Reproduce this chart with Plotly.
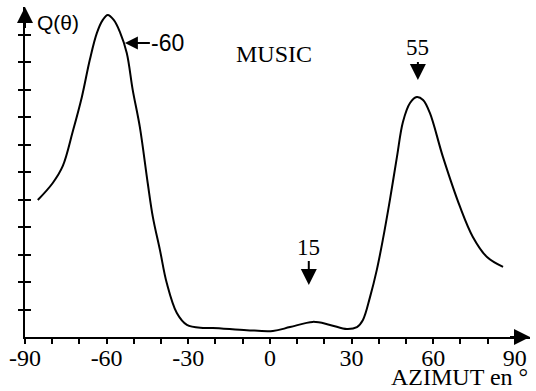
import plotly.graph_objects as go

# Data (azimuth in degrees, Q(theta) in tick units)
azimut = [-85.3, -79.8, -76.1, -72.4, -69.1, -66.2, -63.6, -61.4, -59.6, -57.4,
          -55.1, -52.6, -50.4, -47.8, -44.9, -43.0, -40.4, -37.9, -34.2, -30.5,
          -24.6, -21.0, -8.5, 1.1, 7.4, 15.8, 22.1, 28.3, 32.0, 34.2,
          36.8, 39.3, 41.5, 44.1, 46.7, 48.9, 51.5, 54.0, 56.3, 58.8,
          63.6, 69.9, 74.6, 79.8, 85.7]
q_theta = [4.98, 5.60, 6.22, 7.49, 8.73, 10.07, 11.05, 11.53, 11.71, 11.53,
           11.09, 10.33, 8.98, 7.64, 5.60, 4.36, 3.16, 1.96, 0.87, 0.44,
           0.33, 0.33, 0.25, 0.22, 0.36, 0.55, 0.44, 0.29, 0.36, 0.62,
           1.45, 2.44, 3.53, 4.98, 6.55, 7.82, 8.51, 8.73, 8.62, 8.15,
           6.55, 4.73, 3.64, 2.91, 2.55]

x_tickvals = list(range(-90, 91, 10))
x_ticktext = [str(v) if v % 30 == 0 else "" for v in x_tickvals]
y_tickvals = list(range(1, 12))

SERIF = "Liberation Serif"
SANS = "Liberation Sans"

fig = go.Figure()
fig.add_trace(go.Scatter(x=azimut, y=q_theta, mode="lines",
                         line=dict(color="black", width=2, shape="spline", smoothing=1.0),
                         hoverinfo="skip", showlegend=False))
fig.add_trace(go.Scatter(x=[None], y=[None], yaxis="y2", showlegend=False, hoverinfo="skip"))

fig.update_layout(
    width=536, height=391,
    margin=dict(l=25, r=6, t=7, b=54),
    paper_bgcolor="white", plot_bgcolor="white",
    xaxis=dict(range=[-90, 95.6], showgrid=False, zeroline=False, automargin=False,
               showline=True, linecolor="black", linewidth=2,
               tickvals=x_tickvals, ticktext=x_ticktext,
               ticks="outside", ticklen=5, tickwidth=2, tickcolor="black",
               ticklabelstandoff=-7,
               tickfont=dict(family=SERIF, size=24, color="black")),
    yaxis=dict(range=[0, 12], showgrid=False, zeroline=False, automargin=False,
               showline=True, linecolor="black", linewidth=2,
               tickvals=y_tickvals, showticklabels=False,
               ticks="outside", ticklen=5, tickwidth=2, tickcolor="black"),
    yaxis2=dict(range=[0, 12], overlaying="y", side="left", showgrid=False,
                zeroline=False, showline=False, tickvals=y_tickvals, automargin=False,
                showticklabels=False, ticks="inside", ticklen=6, tickwidth=2,
                tickcolor="black"),
)

# axis arrows
fig.add_annotation(xref="paper", yref="paper", x=1.0, y=0.0, ax=-22, ay=0, text=" ",
                   showarrow=True, arrowhead=2, arrowsize=1.6, arrowwidth=2,
                   arrowcolor="black", font=dict(size=2))
fig.add_annotation(xref="paper", yref="paper", x=0.0, y=1.0, ax=0, ay=24, text=" ",
                   showarrow=True, arrowhead=2, arrowsize=1.6, arrowwidth=2,
                   arrowcolor="black", font=dict(size=2))

# peak labels
fig.add_annotation(x=-53.3, y=10.69, ax=43, ay=0, text="-60", showarrow=True,
                   arrowhead=2, arrowsize=1.3, arrowwidth=2, arrowcolor="black",
                   font=dict(family=SANS, size=23, color="black"))
fig.add_annotation(x=54.4, y=9.35, ax=0, ay=-32, text="55", showarrow=True,
                   arrowhead=2, arrowsize=1.6, arrowwidth=2, arrowcolor="black",
                   font=dict(family=SERIF, size=23, color="black"))
fig.add_annotation(x=14.3, y=1.89, ax=0, ay=-38, text="15", showarrow=True,
                   arrowhead=2, arrowsize=1.6, arrowwidth=2, arrowcolor="black",
                   font=dict(family=SERIF, size=23, color="black"))

# texts
fig.add_annotation(x=1.5, y=10.29, text="MUSIC", showarrow=False,
                   font=dict(family=SERIF, size=24, color="black"))
fig.add_annotation(x=-77.9, y=11.42, text="Q(θ)", showarrow=False,
                   font=dict(family=SANS, size=21, color="black"))
fig.add_annotation(xref="paper", yref="paper", x=1.0, y=-0.166,
                   xanchor="right", yanchor="bottom", text="AZIMUT en °",
                   showarrow=False, font=dict(family=SERIF, size=24, color="black"))

fig.write_html("out.html", config={"displayModeBar": False},
               post_script="document.body.style.margin='0';document.body.style.padding='0';")
